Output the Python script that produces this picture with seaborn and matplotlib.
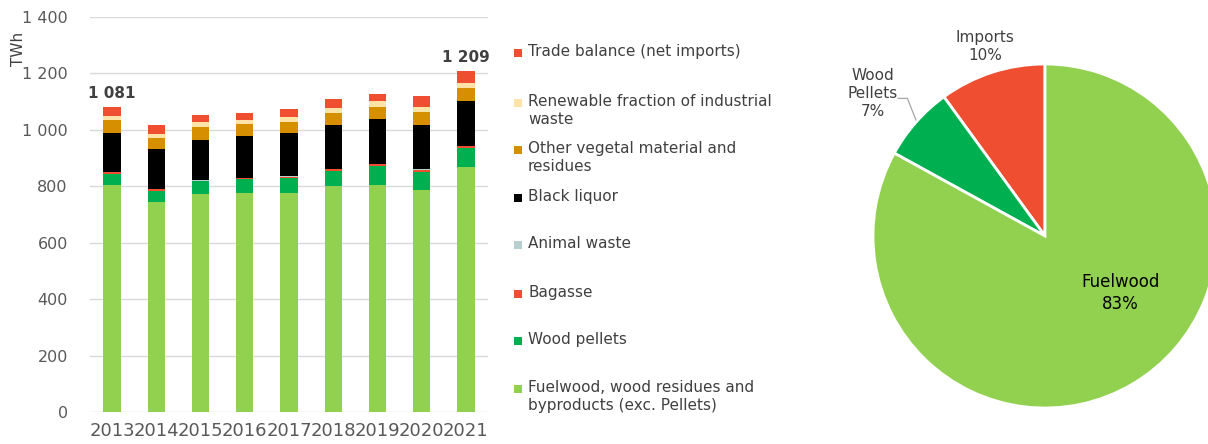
import numpy as np
import pandas as pd
import matplotlib
matplotlib.use("Agg")
import matplotlib.pyplot as plt
import seaborn as sns

sns.set_theme(style="white")
plt.rcParams["font.family"] = ["DejaVu Sans"]

# ---- data -----------------------------------------------------------------
years = ["2013", "2014", "2015", "2016", "2017", "2018", "2019", "2020", "2021"]

fuelwood      = [805, 745, 772, 775, 775, 801, 805, 787, 867]
wood_pellets  = [40, 40, 45, 50, 53, 54, 67, 65, 70]
bagasse       = [4, 4, 3, 5, 6, 6, 6, 7, 6]
animal_waste  = [1, 1, 1, 1, 1, 1, 1, 1, 1]
black_liquor  = [139, 142, 143, 148, 154, 155, 158, 157, 157]
other_vegetal = [47, 40, 47, 40, 40, 44, 45, 47, 49]
industrial    = [14, 13, 16, 16, 18, 17, 19, 18, 15]
trade_balance = [31, 33, 24, 23, 27, 31, 26, 37, 44]

series_names = [
    "Fuelwood, wood residues and\nbyproducts (exc. Pellets)",
    "Wood pellets",
    "Bagasse",
    "Animal waste",
    "Black liquor",
    "Other vegetal material and\nresidues",
    "Renewable fraction of industrial\nwaste",
    "Trade balance (net imports)",
]
series_values = [fuelwood, wood_pellets, bagasse, animal_waste,
                 black_liquor, other_vegetal, industrial, trade_balance]
series_colors = ["#92D050", "#00B050", "#F04E30", "#B7CFCF",
                 "#000000", "#D68F00", "#FDE3A7", "#F04E30"]

y_ticks = [0, 200, 400, 600, 800, 1000, 1200, 1400]

pie_labels = ["Imports", "Wood\nPellets", "Fuelwood"]
pie_values = [10, 7, 83]
pie_colors = ["#F04E30", "#00B050", "#92D050"]

# ---- figure ----------------------------------------------------------------
W, H = 1208, 444
fig = plt.figure(figsize=(W / 100, H / 100), dpi=100)


def px_axes(x0, y0, x1, y1):
    """Axes from pixel box (top-left origin)."""
    return fig.add_axes([x0 / W, 1 - y1 / H, (x1 - x0) / W, (y1 - y0) / H])


ax = px_axes(90, 17, 488, 412)

df = pd.DataFrame({"year": years})
cum = np.zeros(len(years))
cums = []
for vals in series_values:
    cum = cum + np.array(vals, dtype=float)
    cums.append(cum.copy())

# stacked bars: draw cumulative heights from the top layer down
for k in range(len(series_values) - 1, -1, -1):
    df["h"] = cums[k]
    sns.barplot(data=df, x="year", y="h", color=series_colors[k],
                saturation=1, width=0.39, linewidth=0, ax=ax, errorbar=None)

ax.set_ylim(0, 1400)
ax.set_xlim(-0.5, len(years) - 0.5)
ax.set_yticks(y_ticks)
ax.set_yticklabels([f"{v:,}".replace(",", " ") for v in y_ticks])
ax.set_xlabel("")
ax.set_ylabel("TWh", fontsize=11, color="#404040")
ax.yaxis.set_label_coords(-0.16, 0.92)
ax.grid(axis="y", color="#D9D9D9", linewidth=1)
ax.set_axisbelow(True)
for s in ax.spines.values():
    s.set_visible(False)
ax.tick_params(axis="y", length=0, pad=16, labelsize=11.5, labelcolor="#595959")
ax.tick_params(axis="x", length=0, pad=7, labelsize=13, labelcolor="#595959")

# totals on first and last bars
totals = cums[-1]
for i in (0, len(years) - 1):
    ax.annotate(f"{int(round(totals[i])):,}".replace(",", " "),
                xy=(i, totals[i]), xytext=(0, 4), textcoords="offset points",
                ha="center", va="bottom", fontsize=11, fontweight="bold",
                color="#404040")

# ---- legend ----------------------------------------------------------------
lax = px_axes(505, 0, 820, H)
lax.set_xlim(505, 820)
lax.set_ylim(H, 0)
lax.axis("off")
entry_y = [389, 341, 294, 245, 198, 150, 103, 53]
for name, color, y in zip(series_names, series_colors, entry_y):
    lax.scatter([518], [y], marker="s", s=30, color=color, linewidths=0)
    lax.text(528, y - 9, name, ha="left", va="top", fontsize=11,
             color="#404040", linespacing=1.25)

# ---- pie -------------------------------------------------------------------
cx, cy, r = 1045, 236, 172
pax = px_axes(cx - r, cy - r, cx + r, cy + r)
pax.pie(pie_values, colors=pie_colors, startangle=90, counterclock=True,
        radius=1, wedgeprops=dict(edgecolor="white", linewidth=2))
pax.set_xlim(-1, 1)
pax.set_ylim(-1, 1)
pax.set_aspect("equal")

label_pos = [(-0.35, 1.10), (-1.0, 0.83), (0.44, -0.33)]
label_colors = ["#404040", "#404040", "#000000"]
label_sizes = [11, 11, 12]
for lab, val, (lx, ly), c, fs in zip(pie_labels, pie_values, label_pos,
                                     label_colors, label_sizes):
    pax.text(lx, ly, f"{lab}\n{val}%", ha="center", va="center",
             fontsize=fs, color=c, linespacing=1.25, clip_on=False)
# leader line for the wood pellets label
pax.plot([-0.855, -0.80, -0.75], [0.80, 0.80, 0.674], color="#A6A6A6",
         linewidth=0.9, clip_on=False)

fig.savefig("out.png", dpi=100)
